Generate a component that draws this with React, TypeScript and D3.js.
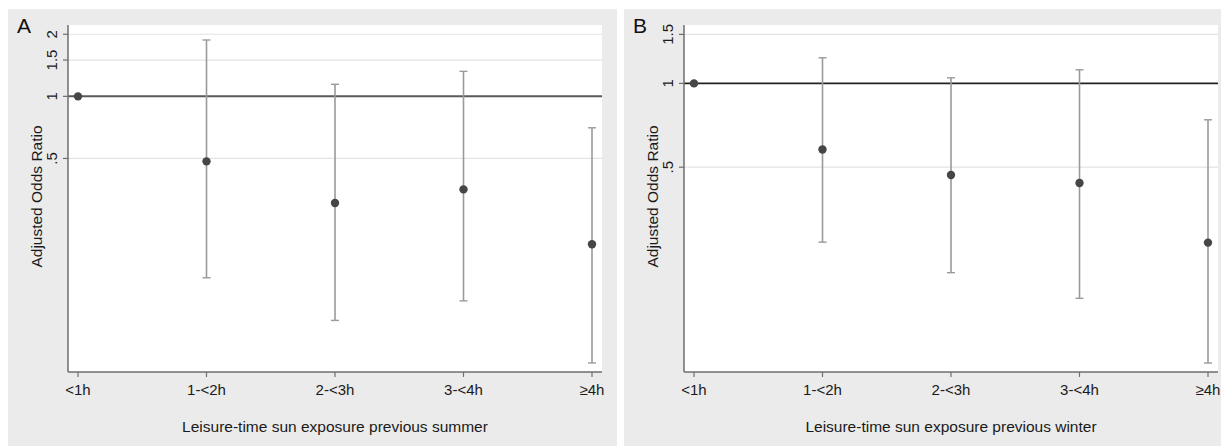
import React from "react";
import * as d3 from "d3";

const categories = ["<1h", "1-<2h", "2-<3h", "3-<4h", "≥4h"];

const summerOR = [1, 0.484, 0.304, 0.354, 0.192];
const summerLower = [null, 0.132, 0.082, 0.102, 0.051];
const summerUpper = [null, 1.876, 1.144, 1.322, 0.704];
const summerTicks = [0.5, 1, 1.5, 2];
const summerTickLabels = [".5", "1", "1.5", "2"];
const summerDomain = [0.0461, 2.218];

const winterOR = [1, 0.579, 0.469, 0.439, 0.268];
const winterLower = [null, 0.269, 0.209, 0.169, 0.099];
const winterUpper = [null, 1.236, 1.047, 1.119, 0.74];
const winterTicks = [0.5, 1, 1.5];
const winterTickLabels = [".5", "1", "1.5"];
const winterDomain = [0.0919, 1.621];

const FONT = "'Liberation Sans', Arial, Helvetica, sans-serif";

type PanelProps = {
  letter: string;
  ox: number;
  or: number[];
  lower: (number | null)[];
  upper: (number | null)[];
  ticks: number[];
  tickLabels: string[];
  domain: number[];
  xTitle: string;
  refColor: string;
  refWidth: number;
};

function Panel(p: PanelProps) {
  const bgX = p.ox - 60;
  const left = p.ox;
  const right = p.ox + 534;
  const top = 25;
  const bottom = 372;
  const x = d3.scalePoint<string>().domain(categories).range([left + 10, right - 10]);
  const y = d3.scaleLog().domain(p.domain).range([bottom, top]);
  const axisColor = "#6e6e6e";
  return (
    <g>
      <rect x={bgX} y={9} width={609} height={437} fill="#ebebeb" />
      <rect x={left} y={top} width={right - left} height={bottom - top} fill="#ffffff" />
      {p.ticks.map((t) =>
        t === 1 ? null : (
          <line key={"g" + t} x1={left} x2={right} y1={y(t)} y2={y(t)} stroke="#e3e3e3" strokeWidth={1.2} />
        )
      )}
      <line x1={left} x2={right} y1={y(1)} y2={y(1)} stroke={p.refColor} strokeWidth={p.refWidth} />
      {categories.map((c, i) => {
        const lo = p.lower[i];
        const hi = p.upper[i];
        if (lo == null || hi == null) return null;
        const cx = x(c)!;
        return (
          <g key={"e" + c}>
            <line x1={cx} x2={cx} y1={y(hi)} y2={y(lo)} stroke="#9a9a9a" strokeWidth={1.6} />
            <line x1={cx - 4} x2={cx + 4} y1={y(hi)} y2={y(hi)} stroke="#9a9a9a" strokeWidth={1.4} />
            <line x1={cx - 4} x2={cx + 4} y1={y(lo)} y2={y(lo)} stroke="#9a9a9a" strokeWidth={1.4} />
          </g>
        );
      })}
      {categories.map((c, i) => (
        <circle key={"p" + c} cx={x(c)!} cy={y(p.or[i])} r={4.2} fill="#464646" />
      ))}
      <line x1={left} x2={left} y1={top} y2={bottom} stroke={axisColor} strokeWidth={1.5} />
      <line x1={left} x2={right} y1={bottom} y2={bottom} stroke={axisColor} strokeWidth={1.5} />
      {p.ticks.map((t, i) => (
        <g key={"t" + t}>
          <line x1={left - 5} x2={left} y1={y(t)} y2={y(t)} stroke={axisColor} strokeWidth={1.2} />
          <text
            transform={`translate(${left - 11},${y(t)}) rotate(-90)`}
            textAnchor="middle"
            fontFamily={FONT}
            fontSize={15}
            fill="#1a1a1a"
          >
            {p.tickLabels[i]}
          </text>
        </g>
      ))}
      {categories.map((c) => (
        <g key={"x" + c}>
          <line x1={x(c)!} x2={x(c)!} y1={bottom} y2={bottom + 5} stroke={axisColor} strokeWidth={1.2} />
          <text x={x(c)!} y={bottom + 23} textAnchor="middle" fontFamily={FONT} fontSize={15} fill="#1a1a1a">
            {c}
          </text>
        </g>
      ))}
      <text
        transform={`translate(${left - 26},${(top + bottom) / 2 - 2}) rotate(-90)`}
        textAnchor="middle"
        fontFamily={FONT}
        fontSize={15.5}
        fill="#1a1a1a"
      >
        Adjusted Odds Ratio
      </text>
      <text x={(left + right) / 2} y={432} textAnchor="middle" fontFamily={FONT} fontSize={15.5} fill="#1a1a1a">
        {p.xTitle}
      </text>
      <text x={bgX + 9} y={33} fontFamily={FONT} fontSize={21} fill="#111">
        {p.letter}
      </text>
    </g>
  );
}

export default function App() {
  return (
    <svg width={1221} height={447} style={{ position: "absolute", left: 0, top: 0, background: "#fff" }}>
      <Panel
        letter="A"
        ox={68}
        or={summerOR}
        lower={summerLower}
        upper={summerUpper}
        ticks={summerTicks}
        tickLabels={summerTickLabels}
        domain={summerDomain}
        xTitle="Leisure-time sun exposure previous summer"
        refColor="#5a5a5a"
        refWidth={2}
      />
      <Panel
        letter="B"
        ox={684}
        or={winterOR}
        lower={winterLower}
        upper={winterUpper}
        ticks={winterTicks}
        tickLabels={winterTickLabels}
        domain={winterDomain}
        xTitle="Leisure-time sun exposure previous winter"
        refColor="#222222"
        refWidth={1.6}
      />
    </svg>
  );
}
